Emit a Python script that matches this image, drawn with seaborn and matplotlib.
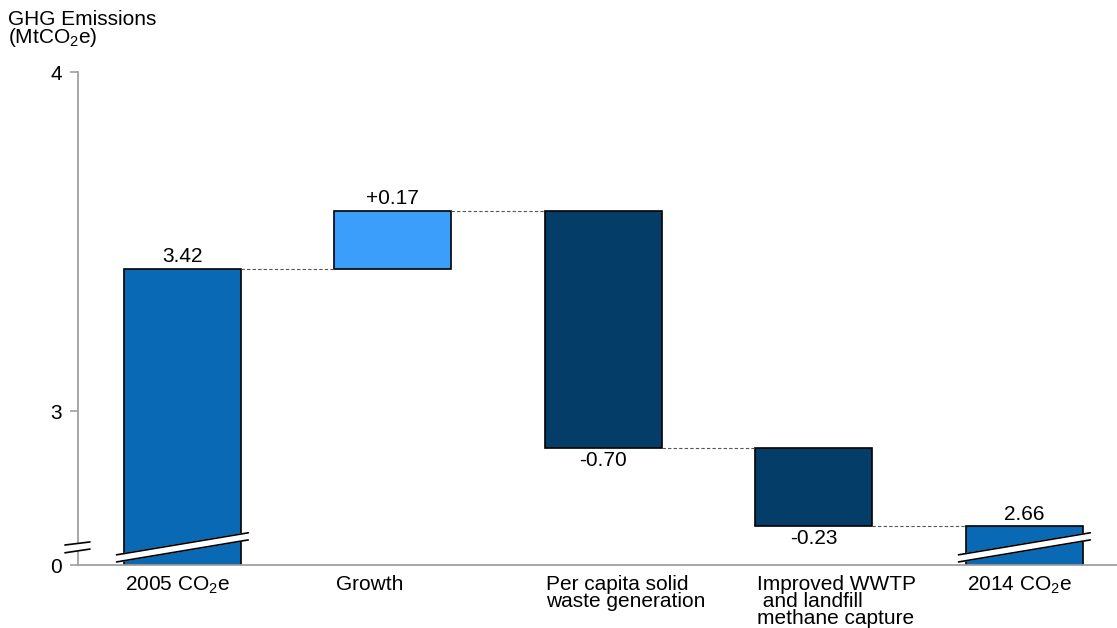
import numpy as np
import pandas as pd
import matplotlib
matplotlib.use("Agg")
import matplotlib.pyplot as plt
import seaborn as sns

# ---- data ----
categories = ["2005 CO$_2$e", "Growth", "Per capita solid\nwaste generation",
              "Improved WWTP\n and landfill\nmethane capture", "2014 CO$_2$e"]
start_value = 3.42
deltas = [0.17, -0.70, -0.23]
end_value = 2.66
value_labels = ["3.42", "+0.17", "-0.70", "-0.23", "2.66"]
axis_break_value = 2.546   # position where the broken axis shows "0"
ytick_values = [axis_break_value, 3, 4]
ytick_labels = ["0", "3", "4"]
bar_colors = ["#0A69B4", "#3A9EFA", "#053D69", "#053D69", "#0A69B4"]

sns.set_style("white")
plt.rcParams["font.family"] = ["Liberation Sans", "DejaVu Sans"]
plt.rcParams["mathtext.default"] = "regular"
plt.rcParams["text.color"] = "black"
FS = 15

# waterfall geometry
levels = [start_value]
for d in deltas:
    levels.append(levels[-1] + d)
bottoms, heights = [], []
bottoms.append(axis_break_value); heights.append(start_value - axis_break_value)
for i, d in enumerate(deltas):
    lo = min(levels[i], levels[i + 1])
    bottoms.append(lo); heights.append(abs(d))
bottoms.append(axis_break_value); heights.append(end_value - axis_break_value)

df = pd.DataFrame({"cat": [f"c{i}" for i in range(5)], "h": heights})

fig = plt.figure(figsize=(11.17, 6.28), dpi=100)
ax = fig.add_axes([78 / 1117, 63 / 628, 1 - 78 / 1117, (565 - 72) / 628])
width = 0.556
sns.barplot(data=df, x="cat", y="h", ax=ax, width=width, bottom=bottoms,
            color=bar_colors[0], saturation=1, edgecolor="black", linewidth=1.2)
for p, c in zip(ax.patches, bar_colors):
    p.set_facecolor(c)
    p.set_edgecolor("black")

ax.set_xlim(-0.496, 4.44)
ax.set_ylim(axis_break_value, 4.0)
ax.set_yticks(ytick_values)
ax.set_yticklabels(ytick_labels, fontsize=FS, color="black")
ax.set_xticks([])
ax.set_xlabel(""); ax.set_ylabel("")
for s in ["top", "right"]:
    ax.spines[s].set_visible(False)
for s in ["left", "bottom"]:
    ax.spines[s].set_color("#A0A0A0")
    ax.spines[s].set_linewidth(1.3)
ax.tick_params(axis="y", left=True, length=5.5, width=1.2, color="#A0A0A0", pad=6)

xs = np.arange(5)
half = width / 2
# connectors
for i in range(4):
    ax.plot([xs[i] + half, xs[i + 1] - half], [levels[i]] * 2,
            color="#555555", lw=0.8, ls=(0, (3, 2)))

# value labels
tops = [b + h for b, h in zip(bottoms, heights)]
for i in range(5):
    if i in (2, 3):
        ax.annotate(value_labels[i], (xs[i], bottoms[i]), xytext=(0, -2),
                    textcoords="offset points", ha="center", va="top", fontsize=FS)
    else:
        ax.annotate(value_labels[i], (xs[i], tops[i]), xytext=(0, 2),
                    textcoords="offset points", ha="center", va="bottom", fontsize=FS)

# category labels (left-aligned under each bar)
for i, c in enumerate(categories):
    ax.annotate(c, (xs[i] - half, axis_break_value), xytext=(1, -7),
                textcoords="offset points", ha="left", va="top", fontsize=FS,
                linespacing=0.88, annotation_clip=False)

# break bands in the first and last bars
b0 = axis_break_value
for i in (0, 4):
    x0, x1 = xs[i] - half - 0.035, xs[i] + half + 0.035
    lo = [b0 + 0.009, b0 + 0.074]
    hi = [b0 + 0.030, b0 + 0.095]
    ax.fill([x0, x1, x1, x0], [lo[0], lo[1], hi[1], hi[0]], color="white", zorder=5,
            clip_on=False)
    ax.plot([x0, x1], lo, color="black", lw=1.2, zorder=6, clip_on=False)
    ax.plot([x0, x1], hi, color="black", lw=1.2, zorder=6, clip_on=False)

# break marks on the y axis
bx0, bx1 = -0.558, -0.439
ax.fill([bx0, bx1, bx1, bx0], [b0 + 0.036, b0 + 0.047, b0 + 0.068, b0 + 0.059],
        color="white", zorder=5, clip_on=False)
ax.plot([bx0, bx1], [b0 + 0.036, b0 + 0.047], color="black", lw=1.2, zorder=6, clip_on=False)
ax.plot([bx0, bx1], [b0 + 0.059, b0 + 0.068], color="black", lw=1.2, zorder=6, clip_on=False)

fig.text(8 / 1117, 1 - 10 / 628, "GHG Emissions\n(MtCO$_2$e)", ha="left", va="top",
         fontsize=FS, linespacing=0.8)

fig.savefig("out.png", dpi=100)
